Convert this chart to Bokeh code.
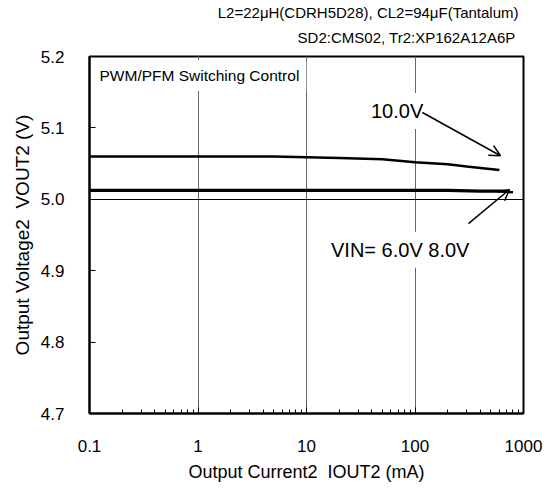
from bokeh.plotting import figure
from bokeh.models import Label, Arrow, OpenHead, FixedTicker, Range1d, PrintfTickFormatter, CustomJSTickFormatter, Title
from bokeh.embed import file_html
from bokeh.resources import INLINE

# ---- data ----
iout_10v = [0.1, 0.2, 0.5, 1, 2, 5, 10, 20, 50, 100, 200, 300, 400, 600]
vout_10v = [5.060, 5.060, 5.060, 5.060, 5.060, 5.060, 5.059, 5.058, 5.056, 5.052, 5.049, 5.046, 5.044, 5.041]
iout_6v = [0.1, 0.2, 0.5, 1, 2, 5, 10, 20, 50, 100, 200, 400, 600, 800]
vout_6v = [5.012, 5.012, 5.012, 5.012, 5.012, 5.012, 5.012, 5.012, 5.012, 5.012, 5.012, 5.011, 5.011, 5.010]
iout_8v = [0.1, 0.2, 0.5, 1, 2, 5, 10, 20, 50, 100, 200, 400, 700]
vout_8v = [5.013, 5.013, 5.013, 5.013, 5.013, 5.013, 5.013, 5.013, 5.013, 5.013, 5.013, 5.012, 5.012]

x_ticks = [0.1, 1, 10, 100, 1000]
x_minor = [m * d for d in (0.1, 1, 10, 100) for m in range(2, 10)]
y_ticks = [4.7, 4.8, 4.9, 5.0, 5.1, 5.2]
x_grid = [1, 10, 100]
y_grid = [5.0]

header1 = "L2=22\u03bcH(CDRH5D28), CL2=94\u03bcF(Tantalum)"
header2 = "SD2:CMS02, Tr2:XP162A12A6P"
mode_text = "PWM/PFM Switching Control"
label_10v = "10.0V"
label_vin = "VIN= 6.0V 8.0V"
x_title = "Output Current2\u00a0\u00a0IOUT2 (mA)"
y_title = "Output Voltage2\u00a0\u00a0VOUT2 (V)"

FONT = "Liberation Sans"

p = figure(width=547, height=486, x_axis_type="log", title=None,
           x_range=Range1d(0.1, 1000), y_range=Range1d(4.7, 5.2),
           output_backend="svg", toolbar_location=None,
           min_border_left=89, min_border_right=24, min_border_top=56, min_border_bottom=73)
p.background_fill_color = "white"
p.border_fill_color = "white"
p.outline_line_color = "black"
p.outline_line_width = 2

# header lines
p.add_layout(Title(text=header2, align="right", vertical_align="top", offset=8, standoff=17,
                   text_font=FONT, text_font_size="15px", text_font_style="normal",
                   text_color="black"), "above")
p.add_layout(Title(text=header1, align="right", offset=5, standoff=0,
                   text_font=FONT, text_font_size="15px", text_font_style="normal",
                   text_color="black"), "above")

# axes
for ax in (p.xaxis, p.yaxis):
    ax.axis_line_width = 2
    ax.axis_line_color = "black"
    ax.major_tick_in = 6
    ax.major_tick_out = 0
    ax.major_tick_line_color = "black"
    ax.major_label_text_font = FONT
    ax.major_label_text_font_size = "17px"
    ax.major_label_text_color = "black"
    ax.axis_label_text_font = FONT
    ax.axis_label_text_font_style = "normal"
    ax.axis_label_text_color = "black"

p.xaxis.ticker = FixedTicker(ticks=x_ticks, minor_ticks=x_minor)
p.xaxis.formatter = CustomJSTickFormatter(code="return tick.toString();")
p.xaxis.minor_tick_in = 4
p.xaxis.minor_tick_out = 0
p.xaxis.minor_tick_line_color = "black"
p.xaxis.major_label_standoff = 26
p.xaxis.axis_label = x_title
p.xaxis.axis_label_text_font_size = "18px"
p.xaxis.axis_label_standoff = 7

p.yaxis.ticker = FixedTicker(ticks=y_ticks)
p.yaxis.formatter = PrintfTickFormatter(format="%.1f")
p.yaxis.minor_tick_line_color = None
p.yaxis.major_label_standoff = 25
p.yaxis.axis_label = y_title
p.yaxis.axis_label_text_font_size = "19px"
p.yaxis.axis_label_standoff = 5

p.xgrid.ticker = FixedTicker(ticks=x_grid)
p.xgrid.grid_line_color = "#666666"
p.xgrid.grid_line_width = 1
p.ygrid.ticker = FixedTicker(ticks=y_grid)
p.ygrid.grid_line_color = "black"
p.ygrid.grid_line_width = 1

# curves
p.line(iout_10v, vout_10v, line_color="black", line_width=2.5)
p.line(iout_6v, vout_6v, line_color="black", line_width=2.5)
p.line(iout_8v, vout_8v, line_color="black", line_width=2.5)

def lab(text, x, y, dx, dy, size, pad=7):
    p.add_layout(Label(x=x, y=y, x_offset=dx, y_offset=dy, text=text, text_font=FONT,
                       text_font_size=size, text_color="black", text_align="left",
                       text_baseline="alphabetic", background_fill_color="white",
                       padding=pad))

# in-plot annotations
lab(mode_text, 0.1, 5.2, 3, -19, "15.5px")
lab(label_10v, 100, 5.1, -51, 17, "20px")
lab(label_vin, 100, 4.9, -91, 21, "20px")

p.add_layout(Arrow(x_start=117, y_start=5.1216, x_end=614, y_end=5.061,
                   line_color="black", line_width=1.5,
                   end=OpenHead(size=11, line_color="black", line_width=1.5)))
p.add_layout(Arrow(x_start=311, y_start=4.966, x_end=743, y_end=5.0137,
                   line_color="black", line_width=1.5,
                   end=OpenHead(size=11, line_color="black", line_width=1.5)))

open("out.html", "w").write(file_html(p, INLINE))
